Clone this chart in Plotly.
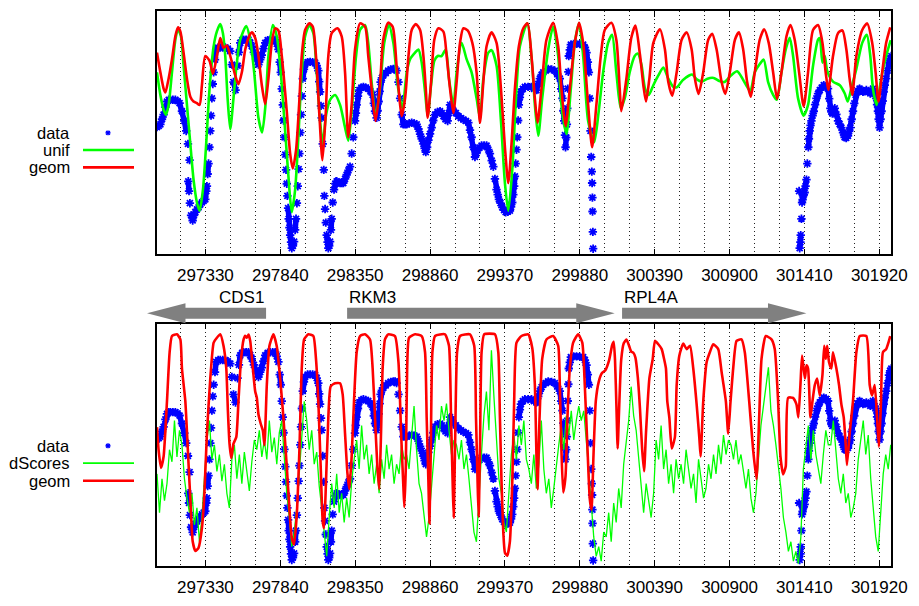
import plotly.graph_objects as go

# ---------------- axis / layout constants ----------------
X_MIN, X_MAX = 297000, 302000
TICK_START, TICK_STEP, GRID_STEP = 297330, 510, 170
W, H = 919, 606
ML, MR, MT, MB = 157, 28, 9, 29

# ---------------- data ----------------
# measured data (same series in both panels), y in % of panel height
data_points = [
    (297000, 52.3), (297012, 52.8), (297023, 53.4), (297034, 55.5), (297045, 57.4), (297057, 60.5),
    (297068, 62.8), (297080, 63.5), (297091, 63.5), (297108, 63.5), (297125, 63.5), (297140, 63.0),
    (297154, 62.1), (297170, 58.8), (297186, 54.8), (297199, 50.7), (297211, 45.4), (297222, 38.7),
    (297213, 30.0), (297218, 26.0), (297224, 21.0), (297232, 16.0), (297243, 13.9), (297252, 16.0),
    (297261, 17.3), (297272, 18.5), (297283, 19.3), (297295, 20.5), (297306, 21.3), (297318, 22.0),
    (297329, 22.6), (297336, 26.0), (297340, 28.0), (297345, 33.0), (297351, 37.3), (297357, 44.0),
    (297363, 50.7), (297368, 57.0), (297374, 64.1), (297380, 70.0), (297386, 74.8), (297395, 80.0),
    (297403, 84.2), (297417, 85.0), (297431, 85.0), (297448, 85.0), (297465, 85.0), (297482, 84.5),
    (297499, 83.5), (297510, 78.0), (297521, 70.8), (297535, 67.5), (297549, 77.5), (297558, 83.0),
    (297567, 86.9), (297580, 88.0), (297590, 88.2), (297607, 88.2), (297623, 88.2), (297635, 87.0),
    (297646, 85.5), (297660, 83.0), (297675, 80.2), (297691, 78.0), (297703, 80.0), (297714, 81.9),
    (297725, 84.5), (297737, 86.9), (297754, 88.0), (297771, 88.2), (297788, 88.2), (297805, 88.2),
    (297816, 86.5), (297827, 84.2), (297836, 79.0), (297843, 74.8), (297850, 68.0), (297857, 61.4),
    (297862, 55.0), (297868, 48.1), (297874, 41.0), (297879, 34.7), (297884, 29.0), (297888, 24.0),
    (297893, 19.0), (297897, 14.6), (297902, 11.0), (297907, 7.9), (297913, 5.0), (297918, 2.5),
    (297926, 3.5), (297934, 5.2), (297941, 10.0), (297947, 14.6), (297953, 21.0), (297959, 28.0),
    (297965, 35.0), (297970, 41.4), (297976, 50.0), (297981, 57.4), (297987, 65.0), (297993, 72.2),
    (298001, 76.0), (298009, 78.0), (298026, 79.0), (298043, 79.1), (298060, 79.0), (298077, 78.8),
    (298088, 77.5), (298099, 75.5), (298105, 71.0), (298111, 66.8), (298117, 61.0), (298122, 56.1),
    (298129, 45.4), (298136, 34.7), (298140, 24.0), (298145, 18.6), (298150, 13.0), (298156, 7.9),
    (298162, 5.0), (298167, 2.5), (298173, 3.5), (298179, 5.2), (298185, 10.0), (298190, 14.6),
    (298197, 21.3), (298206, 26.6), (298215, 29.0), (298224, 30.0), (298236, 29.5), (298247, 29.3),
    (298258, 29.3), (298269, 29.3), (298281, 31.0), (298292, 32.7), (298304, 34.5), (298315, 36.0),
    (298326, 41.4), (298337, 48.1), (298349, 54.8), (298355, 58.0), (298360, 61.4), (298369, 65.0),
    (298378, 67.5), (298392, 68.5), (298406, 68.8), (298422, 68.5), (298439, 68.1), (298454, 67.0),
    (298469, 65.5), (298477, 62.0), (298485, 58.8), (298496, 56.1), (298503, 59.0), (298510, 62.8),
    (298517, 67.0), (298523, 70.8), (298532, 72.5), (298541, 73.5), (298558, 74.5), (298575, 75.5),
    (298592, 76.0), (298610, 76.2), (298622, 76.2), (298632, 75.5), (298645, 70.8), (298656, 64.1),
    (298667, 57.4), (298678, 53.4), (298690, 53.4), (298701, 53.4), (298718, 53.8), (298735, 54.1),
    (298752, 53.8), (298769, 53.4), (298781, 51.5), (298792, 49.4), (298803, 47.5), (298815, 45.4),
    (298823, 43.5), (298831, 42.0), (298840, 44.0), (298849, 46.9), (298860, 49.5), (298871, 52.1),
    (298882, 55.0), (298894, 57.4), (298911, 58.5), (298928, 58.8), (298940, 58.0), (298951, 56.8),
    (298965, 55.5), (298980, 54.8), (298988, 58.0), (298996, 61.4), (299007, 60.5), (299019, 59.1),
    (299036, 58.0), (299053, 56.8), (299070, 56.0), (299087, 55.4), (299104, 54.8), (299121, 54.1),
    (299132, 51.0), (299143, 48.1), (299155, 44.0), (299166, 40.0), (299175, 41.5), (299184, 42.7),
    (299197, 43.8), (299211, 44.7), (299228, 44.7), (299245, 44.7), (299257, 43.0), (299268, 41.4),
    (299280, 38.5), (299291, 36.0), (299302, 31.0), (299313, 26.6), (299321, 24.5), (299329, 22.6),
    (299340, 21.0), (299352, 19.3), (299364, 18.2), (299375, 17.3), (299390, 17.5), (299404, 17.9),
    (299412, 19.5), (299420, 21.3), (299427, 24.5), (299433, 28.0), (299438, 32.0), (299443, 37.3),
    (299449, 43.0), (299454, 48.1), (299460, 55.0), (299465, 61.4), (299472, 64.5), (299479, 66.8),
    (299492, 68.0), (299506, 68.8), (299528, 68.8), (299551, 68.8), (299568, 68.0), (299585, 67.5),
    (299597, 70.0), (299608, 72.2), (299620, 73.8), (299631, 74.8), (299648, 75.5), (299665, 76.2),
    (299688, 76.0), (299710, 75.5), (299727, 74.0), (299744, 72.2), (299753, 68.0), (299762, 64.1),
    (299768, 59.0), (299774, 54.8), (299779, 49.0), (299783, 44.0), (299788, 48.0), (299792, 53.4),
    (299795, 60.0), (299798, 68.1), (299802, 75.0), (299805, 81.5), (299812, 84.0), (299819, 86.2),
    (299838, 86.5), (299858, 86.5), (299880, 86.4), (299903, 86.2), (299915, 85.0), (299926, 82.9),
    (299935, 79.0), (299942, 74.8), (299948, 64.1), (299953, 50.7), (299958, 40.0), (299962, 34.0),
    (299964, 29.3), (299966, 23.3), (299967, 17.6), (299969, 9.2), (299971, 2.3),
    (301374, 26.0), (301378, 2.5), (301383, 5.0), (301385, 7.9), (301390, 14.6), (301394, 21.3),
    (301398, 22.5), (301401, 24.0), (301406, 24.5), (301412, 25.4), (301418, 28.0), (301424, 30.7),
    (301430, 37.3), (301437, 44.0), (301441, 47.5), (301446, 50.7), (301452, 53.0), (301458, 54.8),
    (301466, 57.0), (301474, 58.8), (301483, 61.5), (301492, 64.1), (301503, 66.0), (301515, 67.5),
    (301528, 68.5), (301542, 69.5), (301557, 69.0), (301571, 68.1), (301579, 64.0), (301587, 60.0),
    (301594, 58.5), (301601, 57.8), (301609, 59.0), (301617, 60.0), (301628, 57.5), (301639, 54.8),
    (301650, 53.5), (301662, 52.1), (301673, 50.0), (301684, 48.1), (301695, 47.8), (301707, 48.7),
    (301715, 50.5), (301723, 52.1), (301732, 55.5), (301741, 58.8), (301750, 62.0), (301759, 65.5),
    (301772, 67.0), (301786, 68.1), (301797, 67.5), (301809, 66.8), (301820, 67.0), (301832, 67.5),
    (301846, 66.8), (301859, 66.1), (301868, 67.0), (301877, 68.1), (301889, 66.0), (301900, 64.1),
    (301905, 61.5), (301911, 58.8), (301916, 55.5), (301922, 52.1), (301929, 55.5), (301936, 58.8),
    (301943, 63.0), (301950, 66.8), (301958, 69.5), (301967, 72.2), (301977, 75.5), (301986, 78.8),
    (301994, 80.5), (302002, 81.5),
]

# top panel: uniform model
unif_points = [
    (297000, 74.8), (297023, 65.5), (297045, 59.4), (297061, 57.4), (297079, 61.4), (297102, 74.8),
    (297125, 88.2), (297143, 92.5), (297163, 89.6), (297181, 77.5), (297204, 61.4), (297227, 45.4),
    (297249, 30.7), (297272, 21.3), (297290, 17.9), (297313, 26.6), (297335, 45.4), (297358, 68.1),
    (297386, 85.5), (297408, 91.6), (297431, 94.6), (297449, 90.9), (297465, 81.5), (297481, 64.1),
    (297499, 51.4), (297521, 64.1), (297544, 78.8), (297567, 88.2), (297608, 93.8), (297635, 88.2),
    (297662, 74.8), (297691, 56.1), (297716, 50.1), (297739, 61.4), (297759, 81.5), (297789, 94.2),
    (297816, 89.6), (297843, 74.8), (297873, 50.7), (297902, 26.6), (297918, 17.3), (297941, 26.6),
    (297963, 48.1), (297986, 74.8), (298009, 89.6), (298038, 94.2), (298065, 90.9), (298088, 74.8),
    (298111, 54.8), (298129, 45.4), (298152, 57.4), (298179, 63.5), (298213, 65.5), (298247, 61.4),
    (298281, 52.1), (298303, 46.7), (298326, 58.8), (298356, 81.5), (298383, 92.2), (298417, 94.2),
    (298439, 86.9), (298462, 70.8), (298489, 56.8), (298519, 68.1), (298548, 86.9), (298580, 94.2),
    (298610, 86.9), (298643, 68.1), (298672, 60.0), (298701, 74.8), (298724, 80.2), (298758, 82.9),
    (298781, 84.2), (298803, 78.8), (298826, 66.8), (298844, 56.8), (298867, 69.5), (298889, 79.5),
    (298912, 81.5), (298939, 81.5), (298967, 84.2), (298989, 72.2), (299019, 61.4), (299041, 74.8),
    (299075, 86.9), (299109, 80.2), (299143, 74.8), (299177, 64.1), (299200, 56.1), (299223, 72.2),
    (299257, 82.9), (299279, 83.9), (299313, 77.5), (299343, 54.8), (299370, 29.3), (299393, 17.9),
    (299420, 34.7), (299443, 61.4), (299472, 85.5), (299522, 94.9), (299556, 77.5), (299574, 61.4),
    (299597, 48.7), (299624, 64.1), (299665, 84.2), (299699, 93.6), (299733, 81.5), (299755, 61.4),
    (299789, 49.4), (299819, 68.1), (299846, 86.9), (299875, 94.9), (299903, 81.5), (299937, 54.8),
    (299978, 46.1), (300009, 58.8), (300039, 74.8), (300073, 86.9), (300100, 90.2), (300129, 74.8),
    (300159, 60.0), (300186, 64.1), (300220, 74.8), (300254, 81.5), (300275, 82.5), (300300, 78.0),
    (300325, 68.0), (300350, 65.5), (300381, 69.5), (300415, 73.5), (300449, 76.8), (300483, 72.2),
    (300517, 68.8), (300543, 68.7), (300580, 71.5), (300625, 73.5), (300645, 73.9), (300680, 71.8),
    (300713, 71.0), (300750, 72.2), (300792, 72.5), (300830, 71.2), (300865, 70.8), (300910, 73.5),
    (300952, 75.2), (300990, 72.0), (301020, 68.8), (301042, 67.0), (301072, 74.8), (301106, 78.2),
    (301133, 80.0), (301163, 70.8), (301197, 65.5), (301222, 63.5), (301254, 74.8), (301283, 84.2),
    (301310, 89.0), (301333, 81.5), (301367, 64.1), (301405, 57.0), (301435, 61.4), (301469, 77.5),
    (301503, 88.2), (301515, 88.9), (301533, 78.8), (301549, 81.5), (301565, 75.5), (301605, 71.0),
    (301651, 69.5), (301685, 66.1), (301705, 62.8), (301729, 68.1), (301764, 76.2), (301804, 86.9),
    (301835, 90.2), (301859, 81.5), (301877, 68.1), (301902, 61.4), (301933, 72.2), (301967, 81.5),
    (301998, 88.0),
]

# top panel: geometric model
geom_top_points = [
    (297000, 82.9), (297023, 74.8), (297045, 68.1), (297057, 66.5), (297079, 72.2), (297102, 80.2),
    (297125, 89.6), (297143, 93.3), (297159, 91.6), (297181, 82.9), (297204, 72.2), (297227, 64.8),
    (297249, 62.8), (297272, 62.1), (297290, 61.4), (297306, 69.5), (297329, 81.5), (297358, 79.5),
    (297381, 74.2), (297408, 81.5), (297431, 88.9), (297453, 84.9), (297476, 85.8), (297499, 81.5),
    (297533, 73.5), (297555, 69.9), (297578, 74.8), (297601, 84.2), (297623, 88.9), (297646, 91.2),
    (297669, 88.9), (297691, 81.5), (297714, 69.5), (297737, 61.7), (297759, 72.2), (297782, 86.9),
    (297805, 92.9), (297827, 92.0), (297850, 81.5), (297884, 58.8), (297907, 41.4), (297925, 35.3),
    (297947, 42.7), (297968, 61.4), (297986, 81.5), (298009, 92.2), (298038, 94.9), (298061, 93.6),
    (298083, 81.5), (298106, 57.4), (298127, 38.7), (298149, 57.4), (298167, 81.5), (298190, 90.9),
    (298229, 92.9), (298258, 89.6), (298281, 74.8), (298303, 48.1), (298326, 61.4), (298349, 84.2),
    (298383, 94.9), (298417, 93.6), (298439, 81.5), (298469, 64.1), (298489, 54.8), (298519, 69.5),
    (298541, 88.2), (298575, 95.2), (298605, 93.6), (298632, 77.5), (298655, 62.0), (298667, 56.8),
    (298690, 64.1), (298713, 81.5), (298735, 92.2), (298763, 94.6), (298792, 92.2), (298815, 81.5),
    (298831, 68.1), (298844, 56.1), (298867, 70.8), (298889, 88.2), (298917, 92.9), (298951, 91.5),
    (298973, 81.5), (298996, 68.1), (299019, 58.1), (299041, 70.8), (299064, 86.9), (299087, 92.9),
    (299116, 92.0), (299148, 86.9), (299177, 74.8), (299200, 54.1), (299223, 70.8), (299245, 85.5),
    (299279, 91.2), (299313, 86.9), (299343, 68.1), (299370, 44.0), (299393, 29.3), (299415, 45.4),
    (299438, 68.1), (299465, 85.5), (299495, 92.9), (299524, 94.9), (299551, 81.5), (299574, 64.1),
    (299592, 54.1), (299619, 68.1), (299653, 88.2), (299699, 95.2), (299733, 85.5), (299755, 68.1),
    (299783, 52.7), (299812, 68.1), (299846, 86.9), (299875, 95.2), (299903, 86.9), (299937, 61.4),
    (299964, 44.0), (299993, 61.4), (300023, 81.5), (300050, 92.2), (300095, 95.2), (300129, 88.2),
    (300152, 68.1), (300163, 58.8), (300197, 72.0), (300231, 89.0), (300259, 94.0), (300290, 82.0),
    (300313, 69.5), (300331, 62.8), (300354, 72.2), (300381, 86.9), (300426, 92.5), (300460, 84.2),
    (300483, 70.8), (300510, 65.2), (300540, 74.8), (300574, 88.2), (300608, 91.2), (300642, 84.2),
    (300664, 72.2), (300689, 65.9), (300721, 74.8), (300755, 88.2), (300782, 90.6), (300812, 84.2),
    (300846, 70.8), (300871, 65.9), (300902, 74.8), (300937, 88.2), (300964, 91.2), (300993, 84.2),
    (301020, 70.8), (301045, 64.8), (301072, 74.8), (301106, 88.2), (301136, 92.5), (301167, 86.9),
    (301197, 74.8), (301224, 63.9), (301254, 74.8), (301288, 89.6), (301315, 94.2), (301344, 88.2),
    (301374, 74.8), (301405, 60.8), (301435, 74.8), (301469, 92.2), (301503, 94.2), (301533, 86.9),
    (301555, 74.8), (301573, 67.5), (301605, 81.5), (301639, 90.9), (301669, 92.0), (301696, 84.2),
    (301718, 72.2), (301736, 65.5), (301764, 81.5), (301804, 92.2), (301838, 94.9), (301872, 86.9),
    (301895, 74.8), (301915, 62.8), (301940, 74.8), (301967, 86.9), (301995, 93.3),
]

# bottom panel: geometric model
geom_bottom_points = [
    (297000, 57.3), (297011, 47.8), (297027, 40.5), (297045, 45.2), (297068, 68.0), (297086, 88.2),
    (297102, 94.9), (297136, 95.6), (297159, 93.5), (297170, 81.5), (297193, 68.0), (297208, 50.5),
    (297227, 27.7), (297243, 10.2), (297261, 6.2), (297283, 7.5), (297306, 15.6), (297322, 29.0),
    (297340, 54.6), (297363, 77.4), (297386, 92.2), (297408, 94.2), (297431, 95.6), (297453, 90.9),
    (297472, 81.5), (297483, 64.0), (297494, 50.5), (297506, 44.5), (297521, 50.5), (297540, 53.2),
    (297555, 68.0), (297571, 84.1), (297590, 93.5), (297601, 95.0), (297612, 94.2), (297624, 95.5),
    (297635, 92.9), (297653, 81.5), (297669, 72.0), (297680, 69.4), (297691, 62.6), (297707, 58.6),
    (297721, 55.9), (297732, 49.9), (297748, 74.7), (297766, 90.9), (297793, 95.6), (297816, 90.6),
    (297839, 77.4), (297861, 61.3), (297884, 41.1), (297902, 23.7), (297918, 11.6), (297934, 8.9),
    (297952, 21.0), (297970, 47.8), (297986, 81.5), (298002, 93.5), (298031, 95.6), (298065, 94.9),
    (298083, 85.5), (298099, 68.0), (298115, 41.1), (298129, 18.3), (298138, 15.6), (298151, 34.4),
    (298167, 61.3), (298183, 74.1), (298213, 75.4), (298247, 75.4), (298265, 70.7), (298281, 54.6),
    (298297, 38.4), (298310, 31.7), (298326, 45.2), (298342, 68.0), (298360, 88.2), (298383, 94.9),
    (298417, 95.6), (298451, 93.5), (298469, 81.5), (298485, 61.3), (298501, 41.1), (298514, 31.7),
    (298526, 54.6), (298537, 81.5), (298553, 93.5), (298575, 95.6), (298621, 94.9), (298645, 84.0),
    (298663, 54.6), (298679, 31.7), (298685, 24.3), (298695, 41.1), (298704, 81.5), (298717, 94.2),
    (298758, 95.6), (298803, 94.9), (298826, 88.2), (298837, 61.3), (298849, 34.4), (298856, 17.6),
    (298865, 47.8), (298876, 88.2), (298894, 94.9), (298962, 95.6), (298989, 90.9), (299003, 61.3),
    (299014, 34.4), (299021, 19.9), (299030, 47.8), (299044, 88.2), (299064, 94.9), (299132, 95.6),
    (299161, 90.9), (299173, 61.3), (299184, 34.4), (299191, 20.3), (299200, 47.8), (299211, 88.2),
    (299229, 95.6), (299302, 95.6), (299325, 88.2), (299336, 61.3), (299347, 34.4), (299359, 14.0),
    (299370, 5.5), (299386, 4.2), (299404, 10.2), (299420, 34.4), (299433, 68.0), (299449, 92.2),
    (299483, 94.9), (299529, 95.6), (299556, 90.1), (299574, 74.7), (299585, 45.2), (299592, 31.7),
    (299606, 61.3), (299624, 85.5), (299653, 93.5), (299699, 94.9), (299733, 90.9), (299744, 74.7),
    (299755, 47.8), (299767, 30.4), (299783, 37.1), (299796, 61.3), (299812, 81.5), (299835, 92.2),
    (299869, 95.6), (299897, 92.2), (299914, 74.7), (299933, 47.8), (299948, 27.7), (299960, 23.1),
    (299973, 45.2), (299989, 68.0), (300009, 76.0), (300030, 79.5), (300054, 80.8), (300080, 85.0),
    (300100, 91.0), (300111, 92.5), (300120, 85.0), (300130, 65.0), (300138, 48.5), (300148, 65.0),
    (300162, 85.0), (300180, 92.0), (300198, 93.5), (300215, 91.0), (300230, 88.5), (300245, 88.0),
    (300259, 86.0), (300275, 78.0), (300290, 65.0), (300305, 48.0), (300318, 39.1), (300331, 55.0),
    (300354, 77.4), (300377, 85.5), (300392, 92.9), (300415, 91.5), (300438, 89.5), (300454, 85.5),
    (300467, 81.5), (300476, 68.0), (300490, 61.3), (300506, 48.5), (300528, 53.2), (300540, 74.7),
    (300558, 86.8), (300585, 91.8), (300608, 89.5), (300631, 90.9), (300653, 81.5), (300676, 66.7),
    (300694, 53.2), (300703, 45.2), (300721, 68.0), (300744, 84.1), (300766, 88.2), (300789, 91.5),
    (300823, 89.5), (300846, 80.1), (300875, 68.0), (300891, 54.6), (300907, 68.0), (300925, 81.5),
    (300948, 92.9), (300982, 93.5), (301004, 88.2), (301034, 68.0), (301061, 47.8), (301084, 35.8),
    (301102, 61.3), (301118, 85.5), (301147, 94.9), (301186, 93.5), (301208, 89.5), (301231, 68.0),
    (301247, 45.2), (301265, 37.8), (301283, 41.1), (301299, 69.4), (301333, 69.4), (301356, 66.7),
    (301369, 61.3), (301383, 74.7), (301394, 86.8), (301405, 81.5), (301414, 77.4), (301424, 82.8),
    (301435, 81.5), (301451, 61.3), (301465, 68.0), (301481, 74.7), (301497, 77.4), (301515, 70.4),
    (301533, 78.8), (301545, 90.9), (301556, 85.5), (301565, 90.9), (301578, 84.1), (301594, 81.5),
    (301605, 88.2), (301628, 81.5), (301646, 74.7), (301662, 66.7), (301678, 61.3), (301691, 50.5),
    (301700, 41.7), (301718, 54.6), (301741, 68.0), (301764, 88.2), (301787, 94.9), (301832, 94.9),
    (301855, 74.7), (301871, 70.4), (301889, 74.7), (301905, 61.3), (301918, 49.2), (301932, 68.0),
    (301945, 88.2), (301967, 89.5), (301986, 92.9), (301995, 94.9),
]

# bottom panel: dScores, sampled every 17 bp from 297000
DSCORE_START, DSCORE_STEP = 297000, 17
dscores = [
    38, 22, 36, 27, 34, 48, 43, 60, 45, 56,
    50, 36, 28, 22, 30, 17, 24, 10, 20, 34,
    52, 60, 44, 50, 39, 46, 35, 42, 30, 24,
    44, 50, 36, 46, 34, 47, 39, 31, 43, 52,
    48, 56, 45, 52, 44, 60, 47, 53, 42, 55,
    60, 45, 30, 20, 8, 14, 24, 38, 52, 68,
    60, 48, 56, 42, 47, 33, 24, 14, 4, 20,
    34, 24, 38, 22, 30, 18, 28, 20, 35, 44,
    52, 40, 58, 44, 50, 38, 46, 34, 42, 30,
    44, 36, 50, 40, 46, 34, 42, 38, 50, 44,
    46, 40, 54, 66, 48, 34, 30, 22, 12, 20,
    34, 48, 58, 52, 66, 60, 67, 56, 46, 52,
    50, 44, 52, 40, 46, 36, 26, 14, 10, 30,
    46, 62, 72, 56, 89, 70, 52, 36, 30, 18,
    14, 30, 46, 54, 44, 58, 50, 60, 44, 40,
    34, 46, 32, 42, 60, 40, 30, 36, 24, 32,
    42, 50, 58, 48, 62, 54, 64, 52, 60, 66,
    60, 64, 52, 40, 26, 12, 4, 8, 2, 14,
    12, 22, 10, 26, 18, 32, 24, 42, 52, 60,
    74, 62, 56, 44, 32, 22, 34, 26, 20, 30,
    52, 44, 58, 40, 48, 34, 42, 30, 44, 36,
    42, 34, 48, 40, 32, 38, 26, 44, 36, 28,
    32, 42, 36, 46, 38, 50, 42, 54, 46, 52,
    50, 44, 52, 42, 46, 38, 32, 40, 28, 22,
    30, 44, 58, 66, 74, 82, 64, 58, 50, 42,
    32, 20, 14, 6, 10, 2, 6, 1, 12, 40,
    50, 58, 44, 56, 46, 40, 34, 46, 56, 50,
    50, 60, 46, 36, 30, 38, 26, 30, 20, 24,
    30, 44, 52, 60, 46, 54, 36, 24, 12, 6,
    22, 38, 46, 40, 50,
]
dscore_pos = [DSCORE_START + DSCORE_STEP * i for i in range(len(dscores))]

# genes (start = arrow tail, end = arrow tip)
gene_names = ["CDS1", "RKM3", "RPL4A"]
gene_start = [297743, 298295, 300168]
gene_end = [296932, 300118, 301424]

legend_top = ["data", "unif", "geom"]
legend_bottom = ["data", "dScores", "geom"]

# ---------------- styles ----------------
BLUE, GREEN, RED, GREY = "#0000ff", "#00ff00", "#ff0000", "#808080"
FONT = "Liberation Sans, Arial, Helvetica, sans-serif"
FS = 17
LFS = 16.5
BAND_MAX_STEP = 4.6   # consecutive points closer than this (in y) are drawn as a solid band


def unzip(pts):
    return [p[0] for p in pts], [p[1] for p in pts]


data_x, data_y = unzip(data_points)
unif_x, unif_y = unzip(unif_points)
gt_x, gt_y = unzip(geom_top_points)
gb_x, gb_y = unzip(geom_bottom_points)

# dense overlapping asterisks form a solid band where the data vary slowly
band_x, band_y = [data_x[0]], [data_y[0]]
for i in range(1, len(data_x)):
    if abs(data_y[i] - data_y[i - 1]) > BAND_MAX_STEP or abs(data_x[i] - data_x[i - 1]) > 60:
        band_x.append(None)
        band_y.append(None)
    band_x.append(data_x[i])
    band_y.append(data_y[i])

marker_style = dict(symbol="asterisk-open", size=7, color=BLUE, line=dict(color=BLUE, width=1.8))


def add_data(xa, ya):
    fig.add_trace(go.Scatter(x=band_x, y=band_y, mode="lines", connectgaps=False,
                             line=dict(color=BLUE, width=5.5), hoverinfo="skip",
                             xaxis=xa, yaxis=ya, showlegend=False))
    fig.add_trace(go.Scatter(x=data_x, y=data_y, mode="markers", marker=marker_style,
                             xaxis=xa, yaxis=ya, showlegend=False))


fig = go.Figure()
# top panel
add_data("x", "y")
fig.add_trace(go.Scatter(x=unif_x, y=unif_y, mode="lines",
                         line=dict(color=GREEN, width=2.6, shape="spline", smoothing=0.7),
                         xaxis="x", yaxis="y", showlegend=False))
fig.add_trace(go.Scatter(x=gt_x, y=gt_y, mode="lines",
                         line=dict(color=RED, width=2.6, shape="spline", smoothing=0.7),
                         xaxis="x", yaxis="y", showlegend=False))
# bottom panel
add_data("x2", "y2")
fig.add_trace(go.Scatter(x=dscore_pos, y=dscores, mode="lines",
                         line=dict(color=GREEN, width=1.3),
                         xaxis="x2", yaxis="y2", showlegend=False))
fig.add_trace(go.Scatter(x=gb_x, y=gb_y, mode="lines",
                         line=dict(color=RED, width=2.6, shape="spline", smoothing=0.5),
                         xaxis="x2", yaxis="y2", showlegend=False))

plot_h = H - MT - MB
plot_w = W - ML - MR


def py2paper(py):
    return (H - MB - py) / plot_h


def px2paper(px):
    return (px - ML) / plot_w


def x2paper(x):
    return (x - X_MIN) / (X_MAX - X_MIN)


top_domain = [py2paper(258), 1.0]
bot_domain = [0.0, py2paper(329)]

xaxis_style = dict(
    range=[X_MIN, X_MAX], tick0=TICK_START, dtick=TICK_STEP, tickformat="d",
    showgrid=True, gridcolor="#222222", griddash="1px,3px", gridwidth=1,
    ticks="inside", ticklen=6, tickcolor="black", tickwidth=1,
    showline=True, linecolor="black", linewidth=1.5, mirror="ticks", zeroline=False,
    tickfont=dict(family=FONT, size=FS, color="black"), ticklabelstandoff=5,
    minor=dict(tick0=TICK_START, dtick=GRID_STEP, showgrid=True, gridcolor="#222222",
               griddash="1px,3px", gridwidth=1, ticks=""),
)
yaxis_style = dict(range=[0, 100], showticklabels=False, ticks="", showgrid=False,
                   showline=True, linecolor="black", linewidth=1.5, mirror=True, zeroline=False)

fig.update_layout(
    width=W, height=H, margin=dict(l=ML, r=MR, t=MT, b=MB),
    paper_bgcolor="white", plot_bgcolor="white", showlegend=False,
    xaxis=dict(xaxis_style, anchor="y"),
    yaxis=dict(yaxis_style, domain=top_domain, anchor="x"),
    xaxis2=dict(xaxis_style, anchor="y2"),
    yaxis2=dict(yaxis_style, domain=bot_domain, anchor="x2"),
    font=dict(family=FONT, size=FS, color="black"),
)

shapes = []
annotations = []


# legends (text right aligned, sample to the right)
def add_legend(names, ys, kinds):
    for name, py, kind in zip(names, ys, kinds):
        annotations.append(dict(x=px2paper(72), y=py2paper(py), xref="paper", yref="paper",
                                text=name, showarrow=False, xanchor="right", yanchor="middle",
                                font=dict(family=FONT, size=LFS, color="black")))
        if kind == "marker":
            cx, cy, r = 108, py, 2.5
            for dx, dy in [(r, 0), (0, r), (r * 0.75, r * 0.75), (r * 0.75, -r * 0.75)]:
                shapes.append(dict(type="line", xref="paper", yref="paper",
                                   x0=px2paper(cx - dx), x1=px2paper(cx + dx),
                                   y0=py2paper(cy - dy), y1=py2paper(cy + dy),
                                   line=dict(color=BLUE, width=1.5)))
        else:
            shapes.append(dict(type="line", xref="paper", yref="paper",
                               x0=px2paper(83), x1=px2paper(134),
                               y0=py2paper(py), y1=py2paper(py),
                               line=dict(color=kind, width=2.6 if (kind == RED or names[1] == "unif") else 1.6)))


add_legend(legend_top, [133.7, 151.3, 169.0], ["marker", GREEN, RED])
add_legend(legend_bottom, [454.0, 471.7, 489.7], ["marker", GREEN, RED])

# gene arrows
HEAD_LEN = 262
yc = py2paper(318.3)
body_h = py2paper(312.7) - yc
head_h = py2paper(308.0) - yc
for name, s, e in zip(gene_names, gene_start, gene_end):
    d = 1 if e > s else -1
    hb = e - d * HEAD_LEN
    xs, xh, xe = x2paper(s), x2paper(hb), x2paper(e)
    path = (f"M {xs},{yc + body_h} L {xh},{yc + body_h} L {xh},{yc + head_h} L {xe},{yc} "
            f"L {xh},{yc - head_h} L {xh},{yc - body_h} L {xs},{yc - body_h} Z")
    shapes.append(dict(type="path", xref="paper", yref="paper", path=path,
                       fillcolor=GREY, line=dict(color=GREY, width=0)))
    annotations.append(dict(x=xs, y=py2paper(302.7), xref="paper", yref="paper", text=name,
                            showarrow=False, xanchor="left" if d > 0 else "right",
                            yanchor="middle", font=dict(family=FONT, size=FS, color="black")))

fig.update_layout(shapes=shapes, annotations=annotations)
fig.write_html("out.html", config={"displayModeBar": False},
               post_script="document.body.style.margin='0px';")
